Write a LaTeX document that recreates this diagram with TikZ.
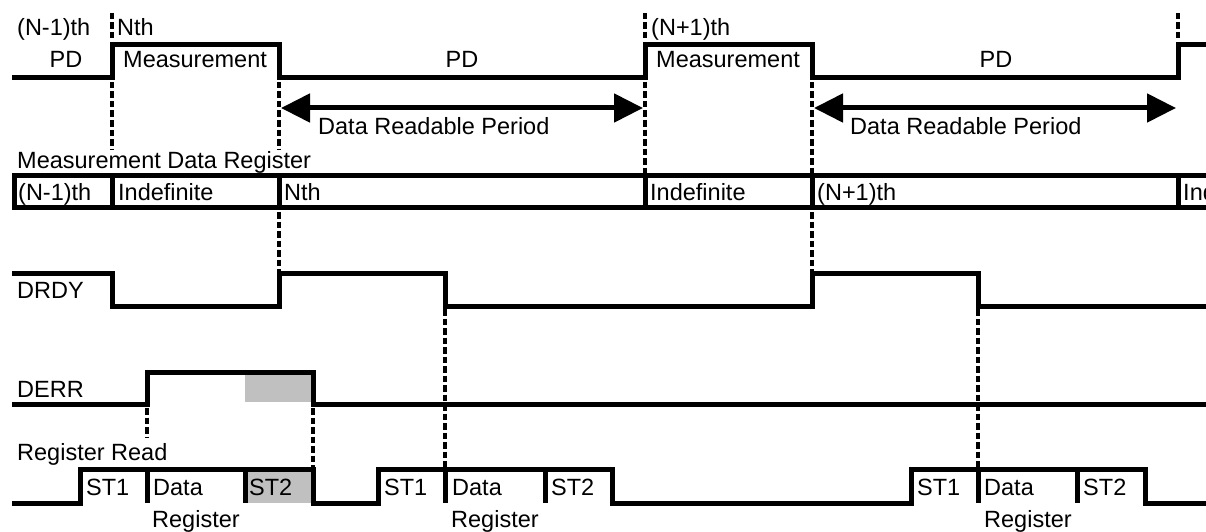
\documentclass[tikz,border=0pt]{standalone}
\usepackage{fontspec}
\setmainfont{Liberation Sans}
\usetikzlibrary{arrows.meta}
\definecolor{errgray}{RGB}{192,192,192}
\begin{document}
\begin{tikzpicture}[x=1pt,y=-1pt,
  wave/.style={line width=5pt, line join=miter},
  guide/.style={line width=3.2pt, dash pattern=on 6.5pt off 3pt},
  lbl/.style={anchor=base west, inner sep=0pt, font=\fontsize{23.5}{28}\selectfont},
  clbl/.style={anchor=base, inner sep=0pt, font=\fontsize{23.5}{28}\selectfont},
  period/.style={line width=5pt, {Triangle[length=29pt,width=28pt]}-{Triangle[length=29pt,width=28pt]}}]
\fill[white] (0,0) rectangle (1206,532);
\clip (0,0) rectangle (1206,532);

% ---- top: measurement / PD phases ----
\draw[wave] (12,78) -- (112,78) -- (112,45) -- (279,45) -- (279,78) -- (645,78) -- (645,45)
  -- (812,45) -- (812,78) -- (1178,78) -- (1178,45) -- (1212,45);
\node[lbl] (nm1) at (17,36) {(N-1)th};
\node[clbl] (pd1) at (66,68) {PD};
\node[lbl] (nth) at (117,36) {Nth};
\node[lbl] (meas1) at (123,68) {Measurement};
\node[clbl] (pd2) at (462,68) {PD};
\node[lbl] (np1) at (651,36) {(N+1)th};
\node[lbl] (meas2) at (656,68) {Measurement};
\node[clbl] (pd3) at (996,68) {PD};

% ---- guides ----
\draw[guide] (112,13) -- (112,41);
\draw[guide] (645,13) -- (645,41);
\draw[guide] (1178,13) -- (1178,40);
\draw[guide] (112,82) -- (112,150);
\draw[guide] (279,82) -- (279,150);
\draw[guide] (645,82) -- (645,173);
\draw[guide] (812,82) -- (812,173);
\draw[guide] (279,212) -- (279,271);
\draw[guide] (812,212) -- (812,271);
\draw[guide] (445,309) -- (445,467);
\draw[guide] (978,309) -- (978,467);
\draw[guide] (147,408) -- (147,438);
\draw[guide] (313,408) -- (313,467);

% ---- data readable periods ----
\coordinate (a1l) at (281,108);
\coordinate (a1r) at (643,108);
\coordinate (a2l) at (814,108);
\coordinate (a2r) at (1176,108);
\draw[period] (a1l) -- (a1r);
\draw[period] (a2l) -- (a2r);
\node[lbl] (drp1) at (318,135) {Data Readable Period};
\node[lbl] (drp2) at (850,135) {Data Readable Period};

% ---- measurement data register ----
\node[lbl] (mdr) at (17,168) {Measurement Data Register};
\draw[wave] (1212,175) -- (14,175) -- (14,207) -- (1212,207);
\foreach \x in {112,279,645,812,1178} \draw[wave] (\x,175) -- (\x,207);
\node[lbl] (r1) at (18,200) {(N-1)th};
\node[lbl] (r2) at (118,200) {Indefinite};
\node[lbl] (r3) at (284,200) {Nth};
\node[lbl] (r4) at (650,200) {Indefinite};
\node[lbl] (r5) at (817,200) {(N+1)th};
\node[lbl] (r6) at (1183,200) {Indefinite};

% ---- DRDY ----
\node[lbl] (drdy) at (17,298) {DRDY};
\draw[wave] (12,273) -- (112,273) -- (112,306) -- (279,306) -- (279,273) -- (445,273) -- (445,306)
  -- (812,306) -- (812,273) -- (978,273) -- (978,306) -- (1212,306);

% ---- DERR ----
\fill[errgray] (245,375) rectangle (311,402);
\node[lbl] (derr) at (17,397) {DERR};
\draw[wave] (12,404) -- (147,404) -- (147,372) -- (313,372) -- (313,404) -- (1212,404);

% ---- Register Read ----
\fill[errgray] (245,471) rectangle (311,503);
\node[lbl] (rr) at (17,460) {Register Read};
\draw[wave] (12,503) -- (80,503) -- (80,469) -- (313,469) -- (313,503) -- (378,503) -- (378,469)
  -- (612,469) -- (612,503) -- (911,503) -- (911,469) -- (1145,469) -- (1145,503) -- (1212,503);
\foreach \x in {147,245,445,545,978,1077} \draw[wave] (\x,469) -- (\x,503);
\node[lbl] (s11) at (86,495) {ST1};
\node[lbl] (d1) at (153,495) {Data};
\node[lbl] (g1) at (152,527) {Register};
\node[lbl] (s21) at (249,495) {ST2};
\node[lbl] (s12) at (384,495) {ST1};
\node[lbl] (d2) at (452,495) {Data};
\node[lbl] (g2) at (451,527) {Register};
\node[lbl] (s22) at (551,495) {ST2};
\node[lbl] (s13) at (917,495) {ST1};
\node[lbl] (d3) at (984,495) {Data};
\node[lbl] (g3) at (984,527) {Register};
\node[lbl] (s23) at (1083,495) {ST2};
\end{tikzpicture}
\end{document}
